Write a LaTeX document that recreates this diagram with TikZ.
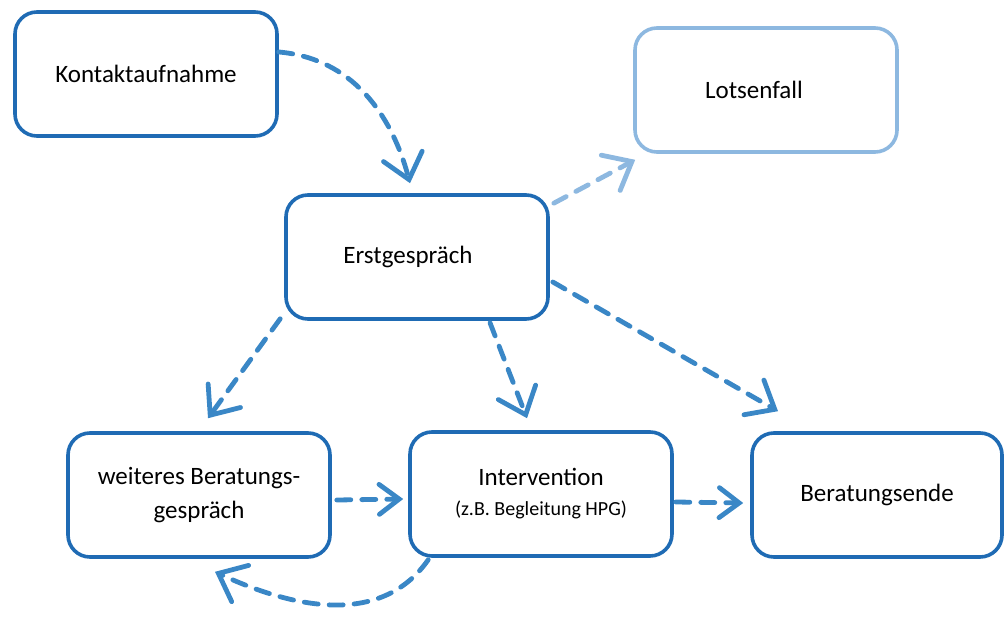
\documentclass[tikz,border=0pt]{standalone}
\usepackage{fontspec}
\setmainfont{Carlito}
\usepackage{tikz}
\usetikzlibrary{shapes,arrows.meta}

\definecolor{boxblue}{RGB}{31,107,180}
\definecolor{arrowblue}{RGB}{58,135,198}
\definecolor{lightblue}{RGB}{141,184,224}

\tikzset{
  stage/.style={draw=boxblue, line width=1.8pt, rounded corners=11pt,
    minimum width=131pt, minimum height=62pt, align=center,
    font=\fontsize{12.5}{17}\selectfont},
  flow/.style={draw=arrowblue, line width=2.4pt, line cap=round,
    dash pattern=on 7pt off 5.5pt,
    -{Straight Barb[length=12pt,width=20pt,line cap=round]}},
  shortflow/.style={flow, -{Straight Barb[length=10pt,width=15pt,line cap=round]}}
}

\begin{document}
\begin{tikzpicture}[x=0.5pt,y=0.5pt]
  \useasboundingbox (0,0) rectangle (1004,616);

  \node[stage] (kontakt) at (146,542) {Kontaktaufnahme};
  \node[stage, draw=lightblue] (lotsen) at (766,526) {Lotsenfall\hspace*{12pt}};
  \node[stage] (erst) at (417,359) {Erstgespräch\hspace*{9pt}};
  \node[stage] (weiteres) at (199,121) {weiteres Beratungs-\\gespräch};
  \node[stage] (interv) at (541,122)
    {Intervention\\[-2pt]{\fontsize{10}{12}\selectfont (z.B. Begleitung HPG)}};
  \node[stage, minimum width=125pt] (ende) at (877,121) {Beratungsende};

  % Pfeile
  \draw[flow] ([yshift=11pt]kontakt.east) to[out=-5,in=105]
    ([xshift=-3.5pt,yshift=5pt]erst.north);
  \draw[flow, draw=lightblue] ([xshift=2pt,yshift=-5pt]erst.north east) --
    ([xshift=1pt,yshift=-3pt]lotsen.south west);
  \draw[flow] ([xshift=-2pt,yshift=1pt]erst.south west) --
    ([xshift=4.5pt,yshift=6.5pt]weiteres.north);
  \draw[flow] ([xshift=36.5pt,yshift=-1pt]erst.south) --
    ([xshift=-7pt,yshift=6pt]interv.north);
  \draw[flow] ([xshift=1.5pt,yshift=-12.5pt]erst.east) --
    ([xshift=-49.5pt,yshift=10pt]ende.north);
  \draw[shortflow] ([xshift=2.5pt,yshift=-2.5pt]weiteres.east) --
    ([xshift=-2.5pt,yshift=-2.5pt]interv.west);
  \draw[shortflow] ([xshift=1pt,yshift=-4pt]interv.east) --
    ([xshift=-3.5pt,yshift=-4pt]ende.west);
  \draw[flow] ([xshift=10pt,yshift=-1pt]interv.south west) to[out=-125,in=-25]
    ([xshift=8pt,yshift=-6.5pt]weiteres.south);
\end{tikzpicture}
\end{document}
